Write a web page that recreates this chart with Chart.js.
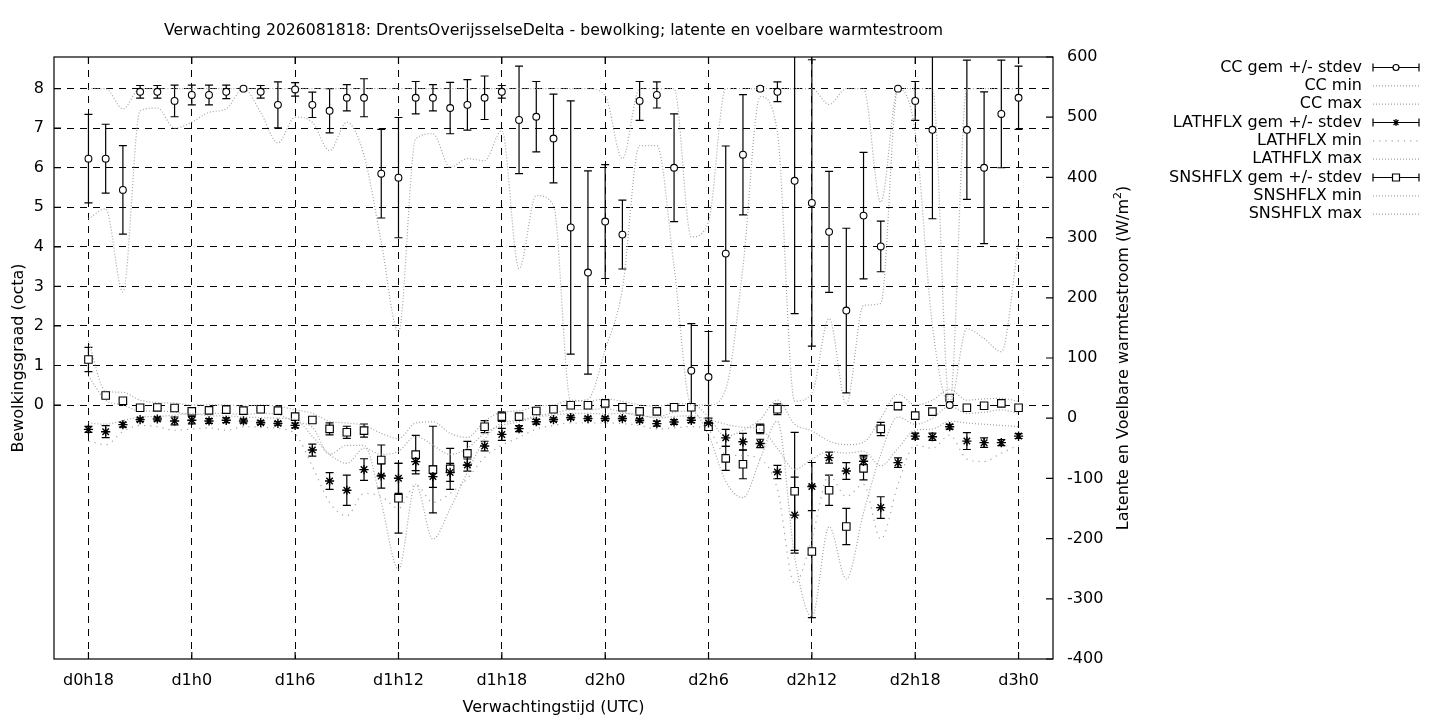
<!DOCTYPE html>
<html>
<head>
<meta charset="utf-8">
<title>Verwachting bewolking en warmtestroom</title>
<script src="https://cdn.jsdelivr.net/npm/chart.js@4.4.1/dist/chart.umd.min.js"></script>
<style>
    body { margin: 0; background: #fff; }
    #wrap { width: 1440px; height: 720px; }
</style>
</head>
<body>
<div id="wrap"><canvas id="graphCanvas" width="1440" height="720"></canvas></div>
<script>
// uren vanaf d0h0, een punt per uur
var hours = [18, 19, 20, 21, 22, 23, 24, 25, 26, 27, 28, 29, 30, 31, 32, 33, 34, 35,
             36, 37, 38, 39, 40, 41, 42, 43, 44, 45, 46, 47, 48, 49, 50, 51, 52, 53,
             54, 55, 56, 57, 58, 59, 60, 61, 62, 63, 64, 65, 66, 67, 68, 69, 70, 71, 72];
var tickHours = [18, 24, 30, 36, 42, 48, 54, 60, 66, 72];
var tickLabels = ['d0h18', 'd1h0', 'd1h6', 'd1h12', 'd1h18', 'd2h0', 'd2h6', 'd2h12', 'd2h18', 'd3h0'];
var ccTicks = [0, 1, 2, 3, 4, 5, 6, 7, 8];
var fluxTicks = [-400, -300, -200, -100, 0, 100, 200, 300, 400, 500, 600];

// bewolking (octa)
var ccMean = [6.23, 6.23, 5.44, 7.92, 7.92, 7.69, 7.84, 7.84, 7.92, 8.0, 7.92, 7.59,
              7.98, 7.59, 7.44, 7.77, 7.77, 5.85, 5.75, 7.77, 7.77, 7.51, 7.59, 7.77,
              7.92, 7.21, 7.29, 6.74, 4.49, 3.35, 4.64, 4.31, 7.69, 7.84, 6.0, 0.87,
              0.71, 3.83, 6.33, 8.0, 7.92, 5.67, 5.11, 4.38, 2.39, 4.79, 4.01, 8.0,
              7.69, 6.96, 0, 6.96, 6.0, 7.36, 7.77];
var ccSd = [1.12, 0.87, 1.12, 0.16, 0.16, 0.40, 0.25, 0.25, 0.17, 0, 0.16, 0.58,
            0.17, 0.32, 0.56, 0.33, 0.48, 1.12, 1.52, 0.41, 0.33, 0.65, 0.64, 0.55,
            0.16, 1.36, 0.89, 1.12, 3.2, 2.57, 1.44, 0.87, 0.49, 0.33, 1.36, 1.19,
            1.15, 2.72, 1.52, 0.05, 0.25, 3.36, 3.62, 1.53, 2.08, 1.6, 0.64, 0,
            0.49, 2.25, 0, 1.76, 1.92, 1.36, 0.8];
var ccMin = [4.71, 4.96, 2.86, 7.44, 7.51, 7.0, 7.15, 7.4, 7.49, 8.0, 7.4, 6.63,
             7.28, 7.15, 6.43, 7.15, 6.31, 4.12, 1.85, 6.73, 6.86, 6.01, 6.23, 6.18,
             6.94, 3.45, 5.3, 5.05, 0.1, 0.15, 1.4, 2.94, 6.56, 6.56, 3.5, 0,
             0, 0.4, 3.5, 7.8, 6.9, 0.1, 0.3, 2.19, 0.03, 2.52, 2.57, 8.0,
             6.9, 2.0, 0, 1.93, 1.68, 1.35, 4.12];
var ccMax = [8, 8, 7.49, 8, 8, 8, 8, 8, 8, 8, 8, 8,
             8, 8, 8, 8, 8, 8, 8, 8, 8, 8, 8, 8,
             8, 8, 8, 8, 8, 8, 7.82, 6.23, 8, 8, 8, 4.25,
             4.63, 8, 8, 8, 8, 8, 8, 7.6, 8, 8, 5.13, 8,
             8, 8, 0, 8, 8, 8, 8];

// latente warmtestroom (W/m2)
var latMean = [-18.6, -22.4, -10.7, -2.4, -1.3, -4.6, -3.5, -4.6, -3.5, -4.6, -7.5, -8.6,
               -12, -52.9, -104.3, -119.7, -85.4, -96, -99.8, -72.2, -97, -90, -77.8, -46.3,
               -26.9, -17.4, -5.8, -2.4, 1, -0.7, -0.7, -0.7, -3.5, -9, -6.3, -3.5,
               -8, -32.6, -39.2, -42, -89.4, -161, -113.6, -65.5, -87.7, -71.6, -148.5, -73.8,
               -29.7, -30.8, -14.1, -38, -40.6, -40.6, -29.7];
var latSd = [5, 10, 4, 3, 3, 6.6, 6, 4, 4, 3, 3, 3,
             4, 10, 14, 25, 18, 20, 25, 15, 18, 15, 10, 8,
             10, 5, 4, 3, 3, 3, 3, 3, 3, 4, 4, 4,
             8, 14, 14, 7, 11, 63, 40, 9, 14, 10, 18, 8,
             5, 6, 4, 14, 8, 5, 4];
var latMin = [-38, -44, -22, -12, -14, -20, -18, -16, -20, -14, -15, -17,
              -26, -80, -140, -162, -125, -130, -150, -110, -140, -125, -100, -65,
              -45, -32, -18, -12, -8, -8, -8, -9, -12, -18, -16, -14,
              -20, -60, -62, -68, -118, -275, -200, -95, -130, -110, -201, -110,
              -45, -50, -28, -68, -72, -58, -45];
var latMax = [-8, -10, -4, 2, 3, 5, 8, 4, 4, 2, 1, 0,
              -2, -30, -60, -75, -50, -60, -55, -30, -45, -60, -50, -25,
              -12, -6, 2, 5, 8, 8, 7, 8, 6, 0, 3, 4,
              -2, -10, -15, -18, -50, -85, -68, -55, -58, -55, -79, -50,
              -20, -18, -5, -8, -10, -12, -14];

// voelbare warmtestroom (W/m2)
var snsMean = [97.5, 37.8, 29, 17.4, 17.9, 16.9, 11.4, 13, 14.2, 12.6, 14.8, 12.6,
               2.6, -2.9, -17.8, -23.4, -20.6, -69.5, -133, -60.5, -85.4, -84.2, -58.4, -14.1,
               2.6, 2.6, 12, 14.8, 21.4, 21.4, 24.7, 18.1, 11.4, 11.4, 18.1, 18.1,
               -14.1, -66.7, -76.6, -17.8, 14.8, -121.4, -221.4, -119.7, -179.9, -83.3, -17.8, 20.1,
               4.3, 10.9, 33.6, 17.4, 20.7, 24.7, 17.4];
var snsSd = [20, 3, 3, 2, 2, 2, 2, 2, 2, 2, 2, 2,
             2, 3, 10, 10, 11, 25, 58, 32, 72, 34, 20, 10,
             8, 3, 2, 2, 2, 2, 4, 2, 2, 2, 2, 2,
             6, 20, 24, 8, 9, 98, 110, 25, 30, 19, 11, 5,
             2, 3, 2, 2, 2, 2, 2];
var snsMin = [70, 30, 22, 12, 12, 10, 6, 8, 8, 6, 8, 6,
              -6, -15, -60, -45, -45, -140, -251, -110, -201, -150, -90, -35,
              -8, -4, 4, 8, 14, 14, 16, 10, 4, 2, 10, 12,
              -28, -105, -132, -68, -5, -230, -330, -180, -267, -157, -60, 2,
              -10, 0, 20, 8, 10, 14, 8];
var snsMax = [128, 45, 43, 30, 26, 25, 22, 22, 22, 20, 22, 20,
              14, 8, -5, -8, -12, -25, -34, -8, -6, -25, -32, -5,
              10, 12, 20, 22, 30, 28, 32, 28, 22, 20, 24, 24,
              2, -30, -20, -2, 30, -10, -21, -38, -44, -40, 0, 40,
              22, 30, 48, 30, 32, 33, 28];

var titleText = 'Verwachting 2026081818: DrentsOverijsselseDelta - bewolking; latente en voelbare warmtestroom';
var grey = '#a3a3a3';
var fontName = '"DejaVu Sans", sans-serif';

Chart.defaults.font.family = fontName;
Chart.defaults.font.size = 16;
Chart.defaults.color = '#000';

function pts(vals) {
    return vals.map(function(v, i) { return { x: hours[i], y: v }; });
}

function meanSet(label, vals, sd, axis, style, radius, bw) {
    return {
        label: label, data: pts(vals), sd: sd, yAxisID: axis,
        showLine: false, pointStyle: style, pointRadius: radius,
        pointBackgroundColor: '#fff', pointBorderColor: '#000', pointBorderWidth: bw
    };
}

function rangeSet(label, vals, axis, dash) {
    return {
        label: label, data: pts(vals), yAxisID: axis, showLine: true,
        borderColor: grey, borderWidth: 1.2, borderDash: dash, pointRadius: 0,
        cubicInterpolationMode: 'monotone', fill: false
    };
}

// foutbalken (gem +/- stdev), onder de punten getekend
var errorBarPlugin = {
    id: 'errorBars',
    beforeDatasetsDraw: function(chart) {
        var ctx = chart.ctx, a = chart.chartArea, xs = chart.scales.x;
        ctx.save();
        ctx.beginPath();
        ctx.rect(a.left, a.top, a.right - a.left, a.bottom - a.top);
        ctx.clip();
        ctx.strokeStyle = '#000';
        ctx.lineWidth = 1.2;
        chart.data.datasets.forEach(function(ds) {
            if (!ds.sd) return;
            var ys = chart.scales[ds.yAxisID];
            ds.data.forEach(function(p, i) {
                var s = ds.sd[i];
                if (!s) return;
                var x = xs.getPixelForValue(p.x);
                var y1 = ys.getPixelForValue(p.y + s);
                var y2 = ys.getPixelForValue(p.y - s);
                ctx.beginPath();
                ctx.moveTo(x, y1); ctx.lineTo(x, y2);
                ctx.moveTo(x - 4, y1); ctx.lineTo(x + 4, y1);
                ctx.moveTo(x - 4, y2); ctx.lineTo(x + 4, y2);
                ctx.stroke();
            });
        });
        ctx.restore();
    }
};

function drawMarker(ctx, style, x, y) {
    ctx.beginPath();
    if (style === 'circle') {
        ctx.arc(x, y, 3, 0, Math.PI * 2);
        ctx.fillStyle = '#fff'; ctx.fill(); ctx.stroke();
    } else if (style === 'rect') {
        ctx.rect(x - 3.5, y - 3.5, 7, 7);
        ctx.fillStyle = '#fff'; ctx.fill(); ctx.stroke();
    } else {
        for (var k = 0; k < 4; k++) {
            var ang = k * Math.PI / 4;
            ctx.moveTo(x - 3.5 * Math.cos(ang), y - 3.5 * Math.sin(ang));
            ctx.lineTo(x + 3.5 * Math.cos(ang), y + 3.5 * Math.sin(ang));
        }
        ctx.stroke();
    }
}

// kader, tickstreepjes, titels en legenda
var decorPlugin = {
    id: 'decor',
    afterDraw: function(chart) {
        var ctx = chart.ctx, a = chart.chartArea, s = chart.scales;
        var midX = (a.left + a.right) / 2, midY = (a.top + a.bottom) / 2;
        ctx.save();
        ctx.strokeStyle = '#000';
        ctx.lineWidth = 1.2;
        ctx.strokeRect(a.left, a.top, a.right - a.left, a.bottom - a.top);

        ctx.beginPath();
        ccTicks.forEach(function(v) {
            var y = s.y.getPixelForValue(v);
            ctx.moveTo(a.left, y); ctx.lineTo(a.left + 7, y);
        });
        fluxTicks.forEach(function(v) {
            var y = s.y2.getPixelForValue(v);
            ctx.moveTo(a.right, y); ctx.lineTo(a.right - 7, y);
        });
        tickHours.forEach(function(v) {
            var x = s.x.getPixelForValue(v);
            ctx.moveTo(x, a.bottom); ctx.lineTo(x, a.bottom - 7);
            ctx.moveTo(x, a.top); ctx.lineTo(x, a.top + 7);
        });
        ctx.stroke();

        ctx.fillStyle = '#000';
        ctx.textAlign = 'center';
        ctx.textBaseline = 'middle';
        ctx.font = '15.7px ' + fontName;
        ctx.fillText(titleText, midX, 31);
        ctx.font = '16px ' + fontName;
        ctx.fillText('Verwachtingstijd (UTC)', midX, 708);

        ctx.save();
        ctx.translate(19, midY);
        ctx.rotate(-Math.PI / 2);
        ctx.fillText('Bewolkingsgraad (octa)', 0, 0);
        ctx.restore();

        // rechter astitel met superscript 2
        var main = 'Latente en Voelbare warmtestroom (W/m';
        ctx.save();
        ctx.translate(1124, midY);
        ctx.rotate(-Math.PI / 2);
        ctx.font = '16px ' + fontName;
        var w1 = ctx.measureText(main).width;
        ctx.font = '11px ' + fontName;
        var w2 = ctx.measureText('2').width;
        ctx.font = '16px ' + fontName;
        var w3 = ctx.measureText(')').width;
        var x0 = -(w1 + w2 + w3) / 2;
        ctx.textAlign = 'left';
        ctx.fillText(main, x0, 0);
        ctx.font = '11px ' + fontName;
        ctx.fillText('2', x0 + w1, -6);
        ctx.font = '16px ' + fontName;
        ctx.fillText(')', x0 + w1 + w2, 0);
        ctx.restore();

        // legenda rechts naast de grafiek
        var textRight = 1362, lineL = 1373, lineR = 1419;
        chart.data.datasets.forEach(function(ds, i) {
            var y = 67.5 + i * 18.33;
            ctx.font = '16px ' + fontName;
            ctx.textAlign = 'right';
            ctx.fillStyle = '#000';
            ctx.fillText(ds.label, textRight, y);
            if (ds.sd) {
                ctx.strokeStyle = '#000';
                ctx.lineWidth = 1.2;
                ctx.setLineDash([]);
                ctx.beginPath();
                ctx.moveTo(lineL, y); ctx.lineTo(lineR, y);
                ctx.moveTo(lineL, y - 4); ctx.lineTo(lineL, y + 4);
                ctx.moveTo(lineR, y - 4); ctx.lineTo(lineR, y + 4);
                ctx.stroke();
                drawMarker(ctx, ds.pointStyle, (lineL + lineR) / 2, y);
            } else {
                ctx.strokeStyle = grey;
                ctx.lineWidth = 1.2;
                ctx.setLineDash(ds.borderDash);
                ctx.beginPath();
                ctx.moveTo(lineL, y); ctx.lineTo(lineR, y);
                ctx.stroke();
                ctx.setLineDash([]);
            }
        });
        ctx.restore();
    }
};

var chartdata = {
    datasets: [
        meanSet('CC gem +/- stdev', ccMean, ccSd, 'y', 'circle', 3.4, 1.1),
        rangeSet('CC min', ccMin, 'y', [1, 2]),
        rangeSet('CC max', ccMax, 'y', [1, 2]),
        meanSet('LATHFLX gem +/- stdev', latMean, latSd, 'y2', 'star', 4.6, 1.4),
        rangeSet('LATHFLX min', latMin, 'y2', [1.2, 5]),
        rangeSet('LATHFLX max', latMax, 'y2', [1, 2]),
        meanSet('SNSHFLX gem +/- stdev', snsMean, snsSd, 'y2', 'rect', 5.3, 1.1),
        rangeSet('SNSHFLX min', snsMin, 'y2', [1, 2]),
        rangeSet('SNSHFLX max', snsMax, 'y2', [1, 2])
    ]
};

var graphTarget = document.getElementById('graphCanvas');

var fluxChart = new Chart(graphTarget, {
    type: 'scatter',
    data: chartdata,
    plugins: [errorBarPlugin, decorPlugin],
    options: {
        responsive: false,
        animation: false,
        devicePixelRatio: 1,
        layout: { padding: { top: 57, left: 0, right: 0, bottom: 0 } },
        plugins: {
            legend: { display: false },
            title: { display: false },
            tooltip: { enabled: false }
        },
        scales: {
            x: {
                type: 'linear', min: 16, max: 74,
                afterBuildTicks: function(sc) {
                    sc.ticks = tickHours.map(function(v) { return { value: v }; });
                },
                afterFit: function(sc) { sc.height = 61; },
                ticks: {
                    autoSkip: false, maxRotation: 0, padding: 12, color: '#000',
                    callback: function(v, idx) { return tickLabels[idx]; }
                },
                grid: { color: '#000', lineWidth: 1, drawTicks: false },
                border: { display: false, dash: [7, 6] }
            },
            y: {
                position: 'left', min: -6.42, max: 8.8,
                afterBuildTicks: function(sc) {
                    sc.ticks = ccTicks.map(function(v) { return { value: v }; });
                },
                afterFit: function(sc) { sc.width = 54; },
                ticks: { padding: 10, color: '#000' },
                grid: { color: '#000', lineWidth: 1, drawTicks: false },
                border: { display: false, dash: [7, 6] }
            },
            y2: {
                position: 'right', min: -400, max: 600,
                afterBuildTicks: function(sc) {
                    sc.ticks = fluxTicks.map(function(v) { return { value: v }; });
                },
                afterFit: function(sc) { sc.width = 387; },
                ticks: { padding: 14, color: '#000' },
                grid: { display: false, drawTicks: false },
                border: { display: false }
            }
        }
    }
});
</script>
</body>
</html>
